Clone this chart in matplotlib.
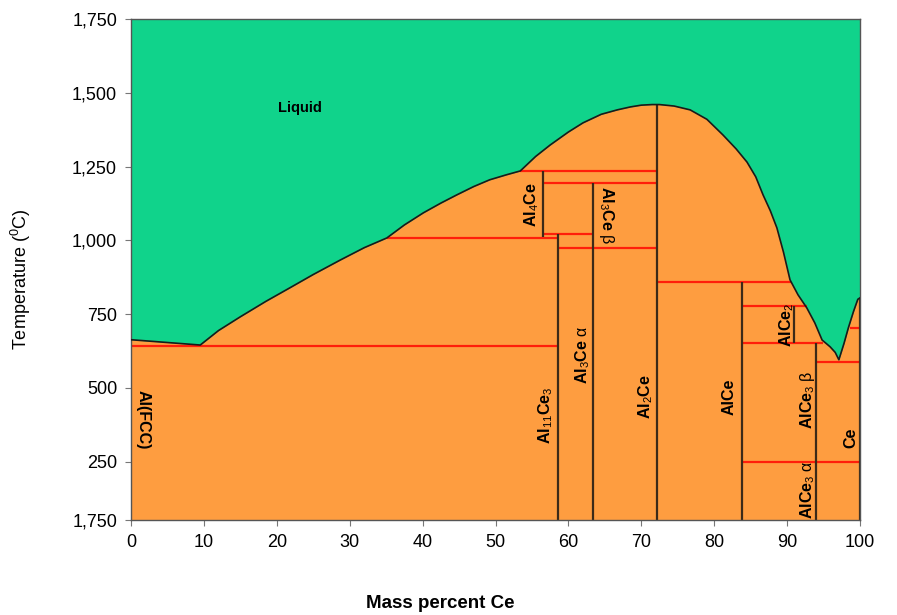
import matplotlib
matplotlib.use("Agg")
import matplotlib.pyplot as plt

# ---------------- data ----------------
liq_x = [0, 9.5, 12.0, 14.95, 18.5, 21.8, 25.0, 28.7, 32.0, 35.1, 37.5, 40.1,
         42.5, 44.7, 47.0, 49.2, 51.5, 53.4, 55.5, 57.5, 60.0, 62.0, 64.5,
         66.7, 68.5, 70.0, 71.5, 72.5, 74.5, 76.7, 79.0, 81.2, 83.0, 84.5,
         85.7, 86.7, 87.7, 88.6, 89.5, 90.4, 91.5, 92.7, 93.8, 94.8, 95.9,
         96.6, 97.1, 97.8, 98.4, 99.1, 99.7, 100]
liq_t = [663, 645, 694, 740, 793, 839, 884, 933, 975, 1008, 1052, 1093,
         1126, 1154, 1182, 1205, 1222, 1235, 1284, 1323, 1367, 1398, 1427,
         1442, 1452, 1458, 1460, 1460, 1455, 1442, 1410, 1357, 1310, 1265,
         1215, 1154, 1100, 1042, 960, 866, 815, 771, 720, 662, 639,
         620, 595, 650, 703, 758, 800, 805]

# red horizontal (invariant) lines: temperature, x start, x end
h_t = [642, 1008, 1022, 1235, 1194, 974, 859, 778, 652, 588, 703, 249]
h_x0 = [0, 35.1, 56.5, 53.4, 56.5, 58.6, 72.2, 83.8, 83.8, 94.0, 98.6, 83.8]
h_x1 = [58.6, 58.6, 63.4, 72.2, 72.2, 72.2, 90.6, 92.7, 94.9, 100, 100, 100]

# dark vertical (compound) lines: composition, T bottom, T top
v_x = [56.5, 58.6, 63.4, 72.2, 83.8, 91.0, 94.0, 100]
v_t0 = [1010, 52, 52, 52, 52, 652, 52, 52]
v_t1 = [1235, 1022, 1194, 1458, 859, 778, 652, 805]

# phase labels
lab_text = ["Al(FCC)", r"Al$_{11}$Ce$_3$", r"Al$_3$Ce", r"Al$_2$Ce", "AlCe",
            r"Al$_4$Ce", r"Al$_3$Ce", r"AlCe$_2$", r"AlCe$_3$",
            r"AlCe$_3$", "Ce"]
lab_greek = ["", "", "α", "", "", "", "β", "", "β", "α", ""]
lab_x = [1.7, 56.9, 61.9, 70.6, 82.0, 55.0, 65.2, 90.0, 92.8, 92.8, 98.8]
lab_t = [391, 408, 612, 470, 470, 1120, 1086, 713, 460, 154, 330]
lab_rot = [-90, 90, 90, 90, 90, 90, -90, 90, 90, 90, 90]

x_ticks = [0, 10, 20, 30, 40, 50, 60, 70, 80, 90, 100]
y_ticks = [52, 250, 500, 750, 1000, 1250, 1500, 1750]
y_ticklabels = ["1,750", "250", "500", "750", "1,000", "1,250", "1,500", "1,750"]

# ---------------- style ----------------
GREEN = "#10d38b"
ORANGE = "#fe9d40"
RED = "#ff1e0a"
DARK = "#3b2a18"
plt.rcParams["font.family"] = ["Liberation Sans", "DejaVu Sans"]
plt.rcParams["mathtext.fontset"] = "custom"
plt.rcParams["mathtext.rm"] = "Liberation Sans"
plt.rcParams["mathtext.it"] = "Liberation Sans"
plt.rcParams["mathtext.bf"] = "Liberation Sans:bold"

fig = plt.figure(figsize=(8.97, 6.15), dpi=100)
ax = fig.add_axes([131 / 897, 1 - 520 / 615, 729 / 897, 501 / 615])
ax.set_xlim(0, 100)
ax.set_ylim(52, 1750)
ax.set_facecolor(ORANGE)

ax.fill_between(liq_x, liq_t, 1750, color=GREEN, lw=0, zorder=1)
ax.plot(liq_x, liq_t, color="#1a1a1a", lw=1.2, zorder=3)

ax.hlines(h_t, h_x0, h_x1, colors=RED, lw=1.6, zorder=2)
ax.vlines(v_x, v_t0, v_t1, colors=DARK, lw=1.6, zorder=2)

ax.text(23.2, 1448, "Liquid", fontsize=10.5, fontweight="bold",
        ha="center", va="center")
for t, g, x, y, r in zip(lab_text, lab_greek, lab_x, lab_t, lab_rot):
    txt = t + (r" $\mathrm{" + ("\\alpha" if g == "α" else "\\beta") + "}$" if g else "")
    ax.text(x, y, txt, rotation=r, fontsize=11.5, fontweight="bold",
            ha="center", va="center", zorder=4)

ax.set_xticks(x_ticks)
ax.set_xticklabels([str(v) for v in x_ticks])
ax.set_yticks(y_ticks)
ax.set_yticklabels(y_ticklabels)
ax.tick_params(axis="both", labelsize=13, length=4, color="#777777",
               direction="out", pad=6)

for s in ax.spines.values():
    s.set_color("#555555")
    s.set_linewidth(1.0)

ax.set_xlabel("Mass percent Ce", fontsize=13.5, fontweight="bold")
ax.xaxis.set_label_coords((440 - 131) / 729, -0.15)
ax.set_ylabel(r"Temperature ($^{0}$C)", fontsize=13)
ax.yaxis.set_label_coords(-0.134, 0.48)

fig.savefig("out.png", dpi=100)
